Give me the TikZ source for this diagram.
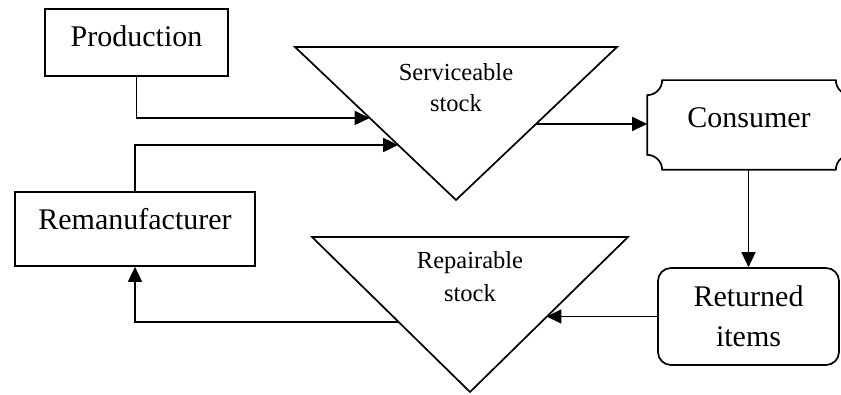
\documentclass[tikz,border=0pt]{standalone}
\usepackage{fontspec}
\setmainfont{Liberation Serif}
\usetikzlibrary{arrows.meta,calc}
\begin{document}
\begin{tikzpicture}[x=1pt,y=1pt,
  line width=1.7pt,
  big/.style={font=\fontsize{30}{40}\selectfont},
  box/.style={draw, inner sep=0pt, big, text height=38pt},
  conn/.style={-{Triangle[length=15pt,width=14pt]}},
]
\clip (0,0) rectangle (841,395);
% boxes
\node[box, minimum width=183pt, minimum height=67pt, text depth=29pt] (prod) at (136.5,352.5) {Production};
\node[box, minimum width=240pt, minimum height=74pt, text depth=36pt] (rem) at (135,166) {Remanufacturer};
\node[inner sep=0pt, big, minimum width=202pt, minimum height=88pt, text height=47pt, text depth=41pt] (cons) at (749,270) {Consumer};
\draw ($(cons.north west)+(15,0)$) -- ($(cons.north east)+(-15,0)$)
  arc[start angle=180,end angle=270,radius=15]
  -- ($(cons.south east)+(0,15)$)
  arc[start angle=90,end angle=180,radius=15]
  -- ($(cons.south west)+(15,0)$)
  arc[start angle=0,end angle=90,radius=15]
  -- ($(cons.north west)+(0,-15)$)
  arc[start angle=270,end angle=360,radius=15] -- cycle;
\node[draw, rounded corners=13pt, minimum width=181pt, minimum height=97pt, align=center, big] (ret) at (748.5,78.5) {Returned\\items};
% triangles
\coordinate (sTL) at (295,348); \coordinate (sTR) at (617,348); \coordinate (sB) at (456,195);
\coordinate (rTL) at (312,158); \coordinate (rTR) at (628,158); \coordinate (rB) at (470,3);
\draw (sTL) -- (sTR) -- (sB) -- cycle;
\draw (rTL) -- (rTR) -- (rB) -- cycle;
\node[align=center, font=\fontsize{24.5}{31}\selectfont] (serv) at (456,307) {Serviceable\\stock};
\node[align=center, font=\fontsize{24.5}{33}\selectfont] (rep) at (470,118) {Repairable\\stock};
\coordinate (sIn1) at ($(sTL)!0.464!(sB)$);
\coordinate (sIn2) at ($(sTL)!0.6405!(sB)$);
\coordinate (sOut) at ($(sTR)!0.503!(sB)$);
\coordinate (rIn) at ($(rTR)!0.516!(rB)$);
\coordinate (rOut) at ($(rTL)!0.548!(rB)$);
% connectors
\draw[conn] (prod.south) |- (sIn1);
\draw[conn] (rem.north) |- (sIn2);
\draw[conn] (sOut) -- (sOut -| cons.west);
\draw[conn] (cons.south -| ret.north) -- (ret.north);
\draw[conn] (ret.west) -- (ret.west -| rIn);
\draw[conn] (rOut) -| (rem.south);
\end{tikzpicture}
\end{document}
